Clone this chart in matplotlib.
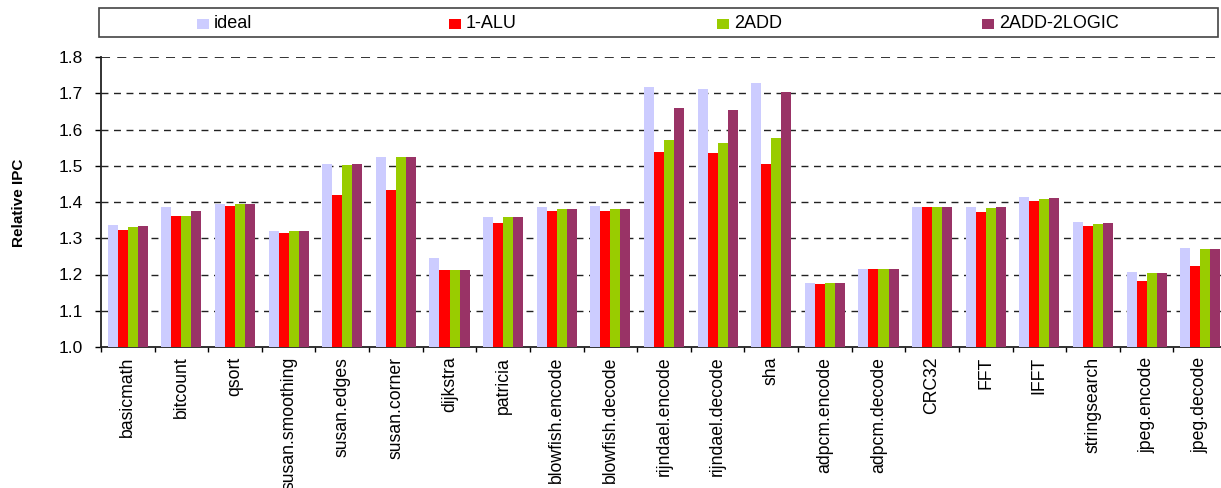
import matplotlib.pyplot as plt
import numpy as np
from matplotlib.patches import Rectangle

plt.rcParams['font.family'] = ['Liberation Sans', 'DejaVu Sans']

benchmarks = ['basicmath', 'bitcount', 'qsort', 'susan.smoothing', 'susan.edges',
              'susan.corner', 'dijkstra', 'patricia', 'blowfish.encode',
              'blowfish.decode', 'rijndael.encode', 'rijndael.decode', 'sha',
              'adpcm.encode', 'adpcm.decode', 'CRC32', 'FFT', 'IFFT',
              'stringsearch', 'jpeg.encode', 'jpeg.decode']

ideal = [1.337, 1.386, 1.395, 1.320, 1.505, 1.524, 1.246, 1.358, 1.386, 1.389,
         1.717, 1.711, 1.728, 1.176, 1.215, 1.386, 1.386, 1.414, 1.345, 1.207, 1.273]
alu1 = [1.323, 1.361, 1.389, 1.315, 1.420, 1.433, 1.213, 1.341, 1.375, 1.375,
        1.538, 1.535, 1.505, 1.174, 1.215, 1.386, 1.373, 1.403, 1.334, 1.182, 1.224]
add2 = [1.331, 1.361, 1.395, 1.320, 1.502, 1.524, 1.213, 1.358, 1.380, 1.380,
        1.571, 1.563, 1.577, 1.176, 1.215, 1.386, 1.384, 1.408, 1.340, 1.205, 1.270]
add2_logic2 = [1.334, 1.375, 1.395, 1.320, 1.505, 1.524, 1.213, 1.358, 1.380, 1.380,
               1.659, 1.654, 1.704, 1.176, 1.215, 1.386, 1.386, 1.411, 1.342, 1.205, 1.270]

series = [('ideal', ideal, '#CCCCFF'),
          ('1-ALU', alu1, '#FF0000'),
          ('2ADD', add2, '#99CC00'),
          ('2ADD-2LOGIC', add2_logic2, '#993366')]

W, H = 1221, 488
fig = plt.figure(figsize=(W / 100, H / 100), dpi=100)
# axes run a little past the right edge, so the last group is cut off
ax = fig.add_axes([101 / W, (H - 347) / H, 1126 / W, 290 / H])

x = np.arange(len(benchmarks))
bw = 0.187
for i, (name, vals, color) in enumerate(series):
    ax.bar(x + (i - 1.5) * bw, np.array(vals) - 1.0, bw, bottom=1.0,
           color=color, linewidth=0, zorder=3)

ax.set_xlim(-0.5, len(benchmarks) - 0.5)
ax.set_ylim(1.0, 1.8)
yt = np.arange(1.0, 1.81, 0.1)
ax.set_yticks(yt)
ax.set_yticklabels([f'{v:.1f}' for v in yt], fontsize=12.5)
for v in yt[1:]:
    ax.axhline(v, color='#222222', lw=1.3 if v > 1.75 else 1.0,
               dashes=(5, 4), zorder=1)

ax.set_xticks(x)
ax.set_xticklabels(benchmarks, rotation=90, fontsize=12.7)
ax.tick_params(axis='x', length=0, pad=7)
ax.set_xticks(np.arange(-0.5, len(benchmarks)), minor=True)
ax.tick_params(axis='x', which='minor', length=3.5, width=1, direction='out')
ax.tick_params(axis='y', length=4.3, width=1, direction='out', pad=8.6)

for s in ['top', 'right']:
    ax.spines[s].set_visible(False)
for s in ['left', 'bottom']:
    ax.spines[s].set_linewidth(1.3)
    ax.spines[s].set_color('#222222')

fig.text(19 / W, 1 - 203 / H, 'Relative IPC', rotation=90, ha='center',
         va='center', fontsize=11, fontweight='bold')

# legend box across the top
fig.patches.append(Rectangle((99 / W, 1 - 37 / H), 1119 / W, 29 / H,
                             transform=fig.transFigure, fill=False,
                             edgecolor='#444444', lw=1.2))
legend_x = [197, 449, 717, 982]
for (name, vals, color), lx in zip(series, legend_x):
    fig.patches.append(Rectangle((lx / W, 1 - 29 / H), 12 / W, 10 / H,
                                 transform=fig.transFigure, color=color, lw=0))
    fig.text((lx + 17) / W, 1 - 23 / H, name, ha='left', va='center', fontsize=13)

fig.savefig('out.png', dpi=100)
